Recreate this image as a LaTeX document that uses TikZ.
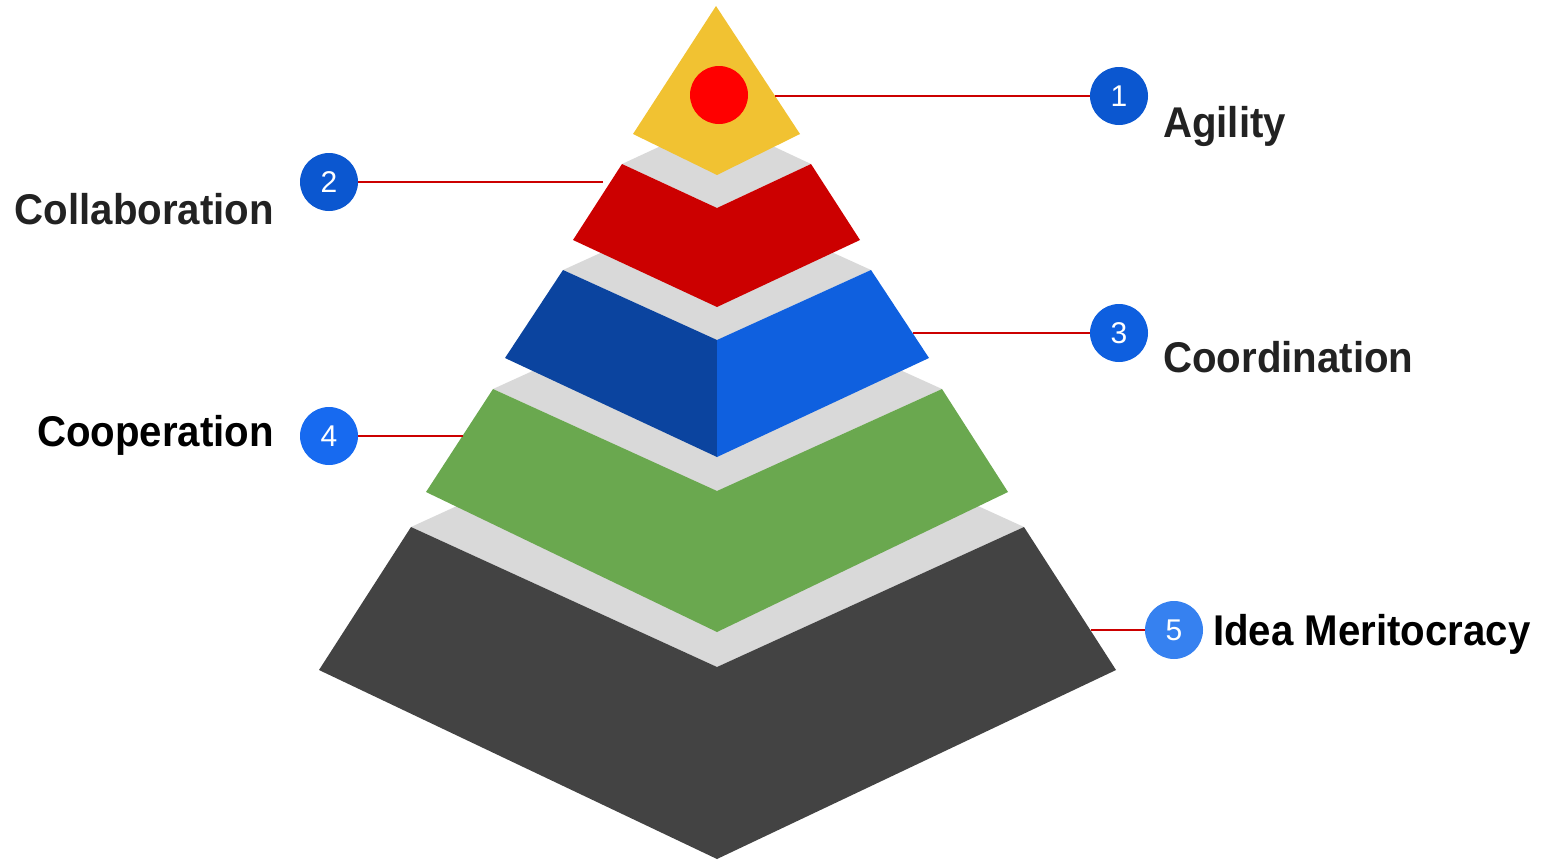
\documentclass[tikz,border=0pt]{standalone}
\usepackage{fontspec}
\setmainfont{Liberation Sans}
\definecolor{cyellow}{HTML}{F1C232}
\definecolor{cred}{HTML}{CC0000}
\definecolor{cdot}{HTML}{FF0000}
\definecolor{cbluedark}{HTML}{0B449F}
\definecolor{cblue}{HTML}{0F60DF}
\definecolor{cgreen}{HTML}{6AA84F}
\definecolor{cdark}{HTML}{434343}
\definecolor{cgray}{HTML}{D9D9D9}
\definecolor{ctext}{HTML}{222222}
\definecolor{cone}{HTML}{0B57D0}
\definecolor{ctwo}{HTML}{0B57D0}
\definecolor{cthree}{HTML}{0E5FDF}
\definecolor{cfour}{HTML}{176AF0}
\definecolor{cfive}{HTML}{3681F0}
\tikzset{
  numc/.style={circle, minimum size=58pt, inner sep=0pt, text=white, font=\fontsize{30}{30}\selectfont},
  lbl/.style={anchor=base west, inner sep=0pt, font=\fontsize{43}{43}\selectfont\bfseries},
  conn/.style={draw=cred, line width=2pt},
}
\newcommand{\lbltext}[1]{\scalebox{0.935}[1]{#1}}
\begin{document}
\begin{tikzpicture}[x=1pt, y=-1pt]
\useasboundingbox (0,0) rectangle (1562,859);
% dark layer
\fill[cgray] (411,527) -- (717,387) -- (1024,527) -- (717,667) -- cycle;
\fill[cdark] (411,527) -- (717,667) -- (717,859) -- (319,670) -- cycle;
\fill[cdark] (717,667) -- (1024,527) -- (1116,670) -- (717,859) -- cycle;
% green layer
\fill[cgray] (493,389) -- (717,287) -- (942,389) -- (717,491) -- cycle;
\fill[cgreen] (493,389) -- (717,491) -- (717,632) -- (426,492) -- cycle;
\fill[cgreen] (717,491) -- (942,389) -- (1008,492) -- (717,632) -- cycle;
% blue layer
\fill[cgray] (563,270) -- (717,200) -- (871,270) -- (717,340) -- cycle;
\fill[cbluedark] (563,270) -- (717,340) -- (717,457) -- (505,358) -- cycle;
\fill[cblue] (717,340) -- (871,270) -- (929,358) -- (717,457) -- cycle;
% red layer
\fill[cgray] (622,164) -- (717,120) -- (811,164) -- (717,208) -- cycle;
\fill[cred] (622,164) -- (717,208) -- (811,164) -- (860,240) -- (717,307) -- (573,240) -- cycle;
% yellow top
\fill[cyellow] (716,6) -- (800,134) -- (717,175) -- (633,134) -- cycle;
\fill[cdot] (719,95) circle (29);
% number circles
\node[numc, fill=cone] (n1) at (1119,96) {1};
\node[numc, fill=ctwo] (n2) at (329,182) {2};
\node[numc, fill=cthree] (n3) at (1119,333) {3};
\node[numc, fill=cfour] (n4) at (329,436) {4};
\node[numc, fill=cfive] (n5) at (1174,630) {5};
% connector ends
\coordinate (e1) at (775,96);
\coordinate (e2) at (603,182);
\coordinate (e3) at (913,333);
\coordinate (e4) at (463,436);
\coordinate (e5) at (1091,630);
\draw[conn] (e1) -- (n1);
\draw[conn] (e2) -- (n2);
\draw[conn] (e3) -- (n3);
\draw[conn] (e4) -- (n4);
\draw[conn] (e5) -- (n5);
% labels
\node[lbl, text=ctext] (l1) at (1163,137) {\lbltext{Agility}};
\node[lbl, text=ctext, anchor=base east] (l2) at (274,224) {\lbltext{Collaboration}};
\node[lbl, text=ctext] (l3) at (1163,372) {\lbltext{Coordination}};
\node[lbl, text=black, anchor=base east] (l4) at (274,446) {\lbltext{Cooperation}};
\node[lbl, text=black] (l5) at (1213,645) {\lbltext{Idea Meritocracy}};
\end{tikzpicture}
\end{document}
